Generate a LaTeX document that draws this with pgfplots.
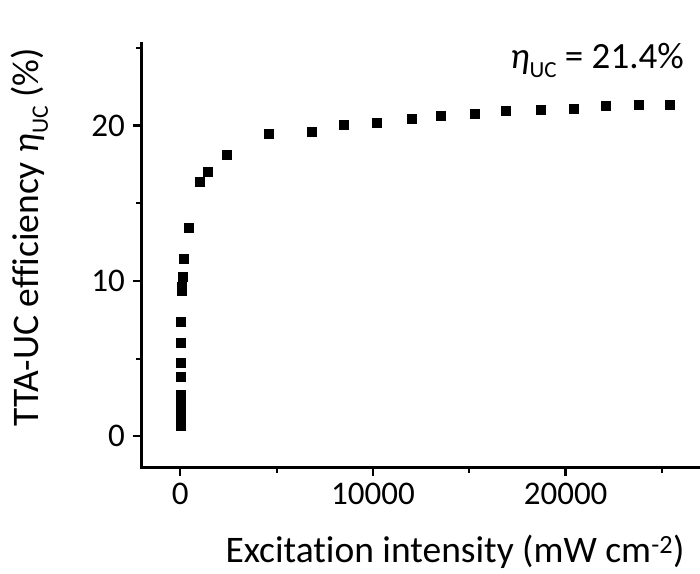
\documentclass[border=0pt]{standalone}
\usepackage{pgfplots}
\pgfplotsset{compat=1.18}
\usepackage{fontspec}
\setmainfont{Carlito}[Ligatures=NoCommon]
\begin{document}
\begin{tikzpicture}[x=1pt,y=1pt]
\useasboundingbox (-141.7,-105.7) rectangle (558.3,467.3);
\begin{axis}[
  at={(0,0)}, anchor=south west,
  scale only axis, width=558.8pt, height=424pt,
  xmin=-2000, xmax=27000, ymin=-2, ymax=25.3,
  axis x line=bottom, axis y line=left,
  axis line style={-, line width=2.5pt, line cap=rect},
  tick align=outside,
  xtick={0,10000,20000}, minor xtick={5000,15000,25000},
  ytick={0,10,20}, minor ytick={5,15,25},
  major tick length=9pt, minor tick length=5.5pt,
  every tick/.style={black, line width=2.5pt},
  minor tick style={line width=2pt},
  scaled x ticks=false,
  /pgf/number format/assume math mode=true,
  xticklabel style={/pgf/number format/fixed, /pgf/number format/1000 sep={}, inner sep=0pt, yshift=-7pt},
  yticklabel style={inner sep=0pt, xshift=-7.7pt},
  tick label style={font=\fontsize{33}{36}\selectfont},
  label style={font=\fontsize{37.5}{42}\selectfont},
  xlabel={Excitation intensity (mW cm\textsuperscript{-2})},
  xlabel style={at={(axis description cs:0.5607,-0.2245)}, anchor=base},
  ylabel={TTA-UC efficiency \textit{η}\raisebox{-0.24em}{\fontsize{23.5}{24}\selectfont UC} (\%)},
  ylabel style={at={(axis description cs:-0.184,0.542)}, anchor=base},
  clip=false,
]
\addplot[only marks, mark=square*, mark size=4.5pt, mark options={fill=black, draw=black, line width=0.3pt}] coordinates {
(2,0.7) (3,0.95) (4,1.2) (6,1.5) (8,1.8) (10,2.1) (13,2.4) (16,2.66)
(20,3.85) (25,4.77) (32,6.0) (45,7.41) (55,9.4) (65,9.6) (100,10.3) (200,11.46) (420,13.46)
(1000,16.36) (1400,17.06) (2400,18.14) (4600,19.47) (6800,19.64) (8500,20.05)
(10200,20.22) (12000,20.48) (13500,20.63) (15300,20.80) (16900,20.95) (18700,21.04)
(20400,21.12) (22100,21.29) (23800,21.38) (25400,21.38)
};
\node[anchor=base west, font=\fontsize{37}{40}\selectfont, inner sep=0pt] at (axis cs:17110,23.68) {\textit{η}\raisebox{-0.24em}{\fontsize{23}{24}\selectfont UC} = 21.4\%};
\end{axis}
\end{tikzpicture}
\end{document}
